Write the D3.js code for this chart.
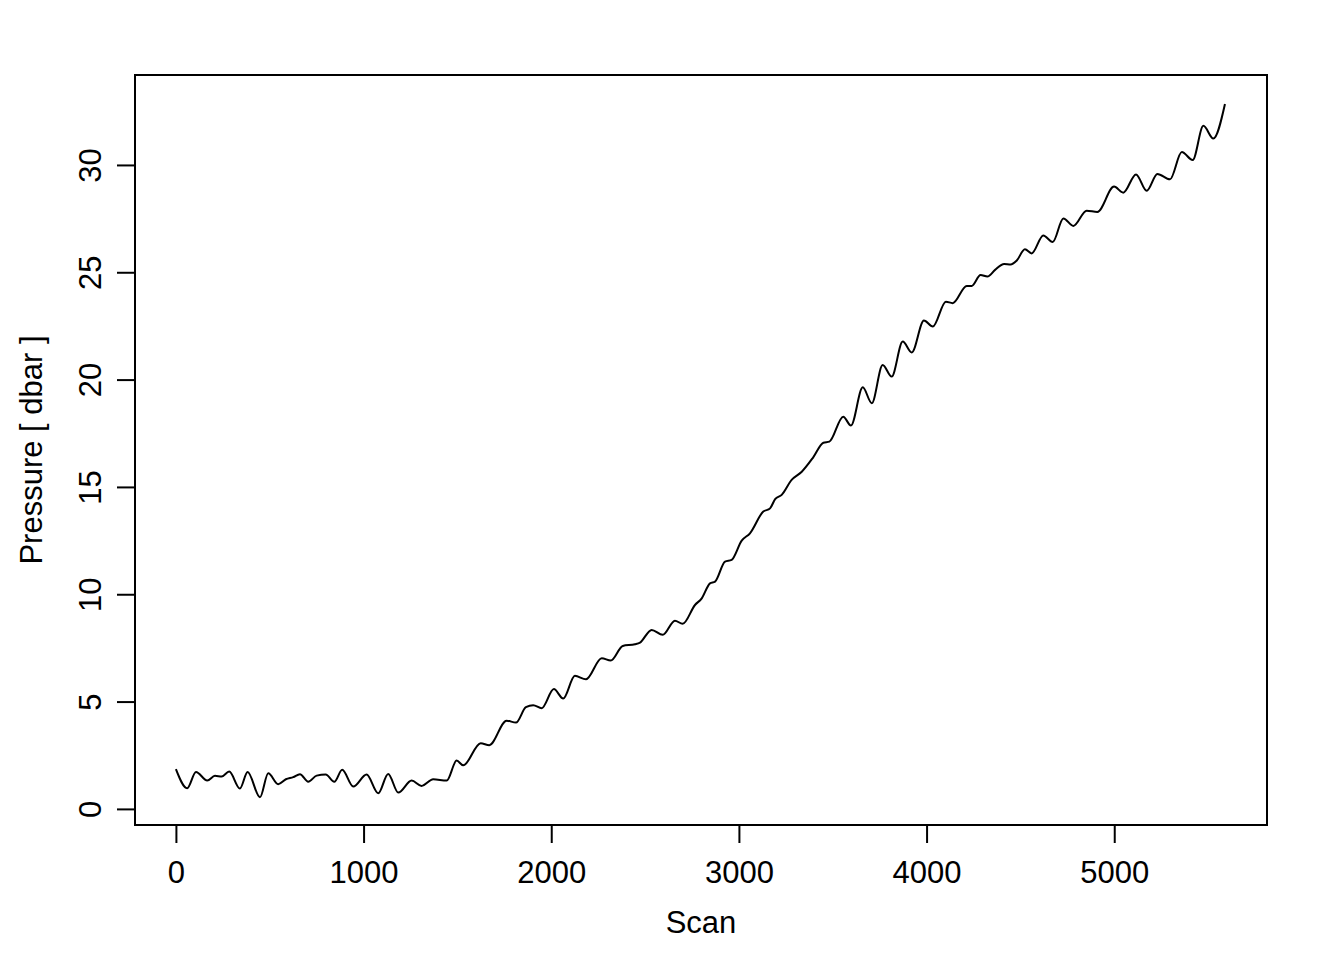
<!DOCTYPE html>
<html>
<head>
<meta charset="utf-8">
<script src="https://cdn.jsdelivr.net/npm/d3@7"></script>
<style>
  body { margin: 0; background: #fff; }
  svg text { font-family: "Liberation Sans", Arial, sans-serif; font-size: 31px; fill: #000; }
</style>
</head>
<body>
<div id="chart"></div>
<script>
// values (scan number, pressure in dbar)
const scans = [
    0, 60, 107, 167, 208, 244, 284, 341, 382, 448,
    492, 545, 586, 625, 661, 705, 750, 798, 844, 886,
    945, 1016, 1078, 1131, 1185, 1256, 1309, 1371, 1443, 1496,
    1531, 1624, 1670, 1762, 1812, 1865, 1904, 1949, 2014, 2064,
    2126, 2185, 2269, 2317, 2381, 2446, 2473, 2535, 2594, 2659,
    2700, 2766, 2802, 2846, 2873, 2926, 2961, 3015, 3059, 3130,
    3166, 3193, 3228, 3281, 3335, 3396, 3450, 3482, 3556, 3597,
    3660, 3708, 3766, 3814, 3873, 3921, 3986, 4033, 4103, 4139,
    4214, 4240, 4288, 4324, 4365, 4413, 4448, 4480, 4524, 4560,
    4622, 4672, 4729, 4782, 4853, 4910, 4999, 5048, 5116, 5173,
    5230, 5297, 5360, 5418, 5475, 5528, 5590
];
const pressure = [
    1.85, 0.96, 1.72, 1.32, 1.54, 1.51, 1.74, 0.95, 1.72, 0.54,
    1.66, 1.15, 1.38, 1.48, 1.62, 1.27, 1.55, 1.60, 1.26, 1.82,
    1.04, 1.60, 0.73, 1.63, 0.76, 1.32, 1.07, 1.38, 1.32, 2.25,
    2.03, 3.06, 2.97, 4.11, 4.02, 4.74, 4.83, 4.69, 5.58, 5.14,
    6.20, 6.04, 7.02, 6.91, 7.59, 7.67, 7.75, 8.34, 8.11, 8.77,
    8.62, 9.50, 9.81, 10.51, 10.59, 11.52, 11.60, 12.50, 12.84, 13.85,
    14.00, 14.43, 14.63, 15.33, 15.71, 16.38, 17.06, 17.11, 18.27, 17.86,
    19.64, 18.90, 20.68, 20.14, 21.77, 21.26, 22.75, 22.47, 23.63, 23.56,
    24.36, 24.36, 24.87, 24.80, 25.11, 25.39, 25.36, 25.54, 26.07, 25.88,
    26.71, 26.41, 27.51, 27.16, 27.87, 27.81, 28.99, 28.71, 29.56, 28.80,
    29.58, 29.33, 30.60, 30.23, 31.82, 31.23, 32.84
];
const x_ticks = [0, 1000, 2000, 3000, 4000, 5000];
const y_ticks = [0, 5, 10, 15, 20, 25, 30];

let svg_width = 1344, svg_height = 960,
    margin = {top: 75, right: 77, bottom: 135, left: 135},
    width = svg_width - margin.left - margin.right,
    height = svg_height - margin.top - margin.bottom;

let x = d3.scaleLinear()
    .domain([-218, 5814])
    .range([0, width]);
let y = d3.scaleLinear()
    .domain([-0.75, 34.19])
    .range([height, 0]);

let svg = d3.select("#chart").append("svg")
        .attr("width", svg_width)
        .attr("height", svg_height)
    .append("g")
        .attr("transform", "translate(" + margin.left + ", " + margin.top + ")");

// x axis
let x_axis = svg.append("g")
    .attr("transform", "translate(0, " + height + ")")
    .call(d3.axisBottom(x).tickValues(x_ticks).tickSize(18).tickFormat(d3.format("d")));
x_axis.select(".domain").remove();
x_axis.selectAll("line").attr("stroke-width", 2);
x_axis.selectAll("text")
    .attr("y", 58)
    .attr("dy", 0)
    .style("font-size", "31px")
    .style("font-family", "'Liberation Sans', Arial, sans-serif");

// y axis, labels rotated like R's default
let y_axis = svg.append("g")
    .call(d3.axisLeft(y).tickValues(y_ticks).tickSize(18));
y_axis.select(".domain").remove();
y_axis.selectAll("line").attr("stroke-width", 2);
y_axis.selectAll("text")
    .attr("x", 0)
    .attr("dy", 0)
    .attr("text-anchor", "middle")
    .attr("transform", "translate(-34, 0) rotate(-90)")
    .style("font-size", "31px")
    .style("font-family", "'Liberation Sans', Arial, sans-serif");

// box
svg.append("rect")
    .attr("width", width)
    .attr("height", height)
    .attr("fill", "none")
    .attr("stroke", "#000")
    .attr("stroke-width", 2);

// the trace
const points = scans.map((s, i) => [s, pressure[i]]);
svg.append("path")
    .datum(points)
    .attr("fill", "none")
    .attr("stroke", "#000")
    .attr("stroke-width", 2)
    .attr("stroke-linejoin", "round")
    .attr("d", d3.line()
        .x(d => x(d[0]))
        .y(d => y(d[1]))
        .curve(d3.curveMonotoneX));

// axis titles
svg.append("text")
    .attr("text-anchor", "middle")
    .attr("x", width / 2)
    .attr("y", height + 108)
    .text("Scan");

svg.append("text")
    .attr("text-anchor", "middle")
    .attr("transform", "translate(-93, " + (height / 2) + ") rotate(-90)")
    .text("Pressure [ dbar ]");
</script>
</body>
</html>
